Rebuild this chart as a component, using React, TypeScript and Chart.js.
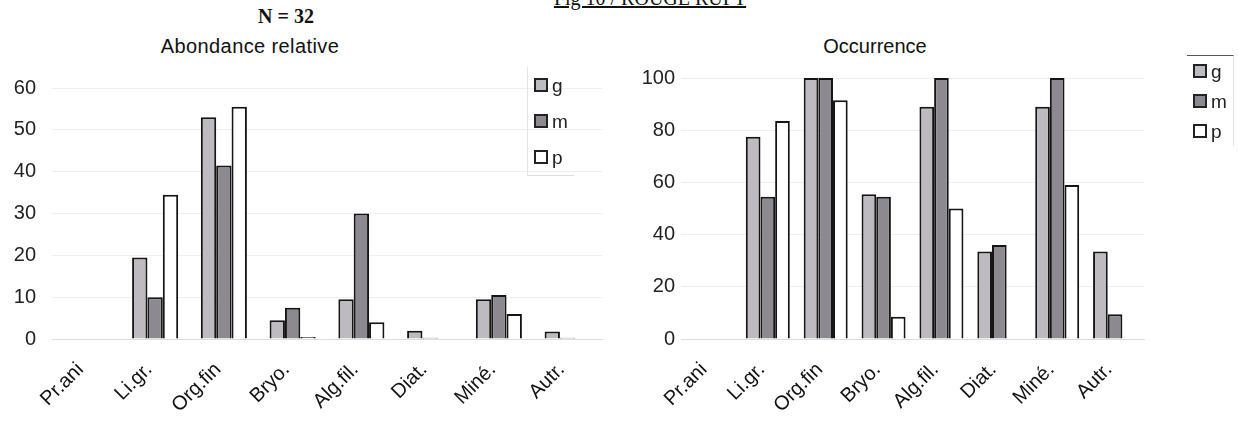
import React, { useEffect, useRef } from 'react';
import { Chart, registerables } from 'chart.js';
Chart.register(...registerables);

const categories = ['Pr.ani', 'Li.gr.', 'Org.fin', 'Bryo.', 'Alg.fil.', 'Diat.', 'Miné.', 'Autr.'];
const seriesNames = ['g', 'm', 'p'];
const seriesColors = ['#bdbac0', '#8d8990', '#ffffff'];

const abondanceG = [null, 19.5, 53, 4.5, 9.5, 2, 9.5, 1.8];
const abondanceM = [null, 10, 41.5, 7.5, 30, 0.3, 10.5, 0.3];
const abondanceP = [null, 34.5, 55.5, 0.5, 4, 0, 6, 0];

const occurrenceG = [null, 77.5, 100, 55.5, 89, 33.5, 89, 33.5];
const occurrenceM = [null, 54.5, 100, 54.5, 100, 36, 100, 9.5];
const occurrenceP = [null, 83.5, 91.5, 8.5, 50, 0, 59, 0];

const abondanceTicks = [0, 10, 20, 30, 40, 50, 60];
const occurrenceTicks = [0, 20, 40, 60, 80, 100];

const FONT = "'Liberation Sans', Arial, sans-serif";

type BarProps = {
  left: number; top: number; width: number; height: number;
  yWidth: number; padTop: number; padRight: number;
  ticks: number[]; catPct: number; yPad: number;
  series: (number | null)[][];
};

function BarChart(p: BarProps) {
  const ref = useRef<HTMLCanvasElement>(null);
  useEffect(() => {
    const ctx = ref.current!;
    const chart = new Chart(ctx, {
      type: 'bar',
      data: {
        labels: categories,
        datasets: p.series.map((d, i) => ({
          label: seriesNames[i],
          data: d,
          backgroundColor: seriesColors[i],
          borderColor: '#151515',
          borderWidth: 2,
          categoryPercentage: p.catPct,
          barPercentage: 1.0,
        })),
      },
      options: {
        animation: false,
        responsive: false,
        maintainAspectRatio: false,
        layout: { padding: { top: p.padTop, right: p.padRight, left: 0, bottom: 0 } },
        plugins: { legend: { display: false }, tooltip: { enabled: false }, title: { display: false } },
        scales: {
          x: {
            grid: { display: false },
            border: { display: true, color: '#dedede' },
            ticks: {
              autoSkip: false, maxRotation: 45, minRotation: 45, padding: 11, labelOffset: -6,
              color: '#111', font: { family: FONT, size: 20 },
            },
            afterFit: (s: any) => { s.height = 91; },
          },
          y: {
            min: p.ticks[0],
            max: p.ticks[p.ticks.length - 1],
            afterBuildTicks: (s: any) => { s.ticks = p.ticks.map((v) => ({ value: v })); },
            grid: { color: '#efefef', drawTicks: false },
            border: { display: false },
            ticks: { padding: p.yPad, color: '#222', font: { family: FONT, size: 20 } },
            afterFit: (s: any) => { s.width = p.yWidth; },
          },
        },
      },
    });
    return () => chart.destroy();
  }, []);
  return (
    <canvas
      ref={ref}
      width={p.width}
      height={p.height}
      style={{ position: 'absolute', left: p.left, top: p.top, width: p.width, height: p.height }}
    />
  );
}

function Legend({ left, top, gap, border }: { left: number; top: number; gap: number; border: React.CSSProperties }) {
  return (
    <div style={{ position: 'absolute', left, top, ...border, fontFamily: FONT, fontSize: 19, color: '#222', padding: '0 6px' }}>
      {seriesNames.map((n, i) => (
        <div key={n} style={{ display: 'flex', alignItems: 'center', height: gap }}>
          <span style={{ display: 'inline-block', width: 10, height: 10, background: seriesColors[i], border: '2px solid #222', marginRight: 4 }} />
          <span style={{ lineHeight: 1 }}>{n}</span>
        </div>
      ))}
    </div>
  );
}

export default function App() {
  return (
    <div style={{ position: 'absolute', left: 0, top: 0, width: 1238, height: 430, background: '#fff', overflow: 'hidden' }}>
      <div style={{ position: 'absolute', left: 535, top: -13, width: 230, textAlign: 'center', fontFamily: "'Liberation Serif', 'Times New Roman', serif", fontSize: 20, textDecoration: 'underline', color: '#111', whiteSpace: 'nowrap' }}>
        Fig 10 / ROUGE RUPT
      </div>
      <div style={{ position: 'absolute', left: 236, top: 5, width: 100, textAlign: 'center', fontFamily: "'Liberation Serif', 'Times New Roman', serif", fontWeight: 'bold', fontSize: 20, color: '#111' }}>
        N = 32
      </div>
      <div style={{ position: 'absolute', left: 100, top: 35, width: 300, textAlign: 'center', fontFamily: FONT, fontSize: 20, letterSpacing: 0.4, color: '#111' }}>
        Abondance relative
      </div>
      <div style={{ position: 'absolute', left: 725, top: 35, width: 300, textAlign: 'center', fontFamily: FONT, fontSize: 20, color: '#111' }}>
        Occurrence
      </div>
      <BarChart left={0} top={60} width={620} height={370} yWidth={52} padTop={26} padRight={18}
        ticks={abondanceTicks} catPct={0.67} yPad={16}
        series={[abondanceG, abondanceM, abondanceP]} />
      <BarChart left={620} top={60} width={618} height={370} yWidth={61} padTop={17} padRight={94}
        ticks={occurrenceTicks} catPct={0.76} yPad={6}
        series={[occurrenceG, occurrenceM, occurrenceP]} />
      <Legend left={527} top={67} gap={36} border={{ borderLeft: '1px solid #e4e4e4', borderBottom: '1px solid #ddd', paddingBottom: 2 }} />
      <Legend left={1187} top={55} gap={30} border={{ borderTop: '1px solid #555', borderRight: '1px solid #e4e4e4' }} />
    </div>
  );
}
